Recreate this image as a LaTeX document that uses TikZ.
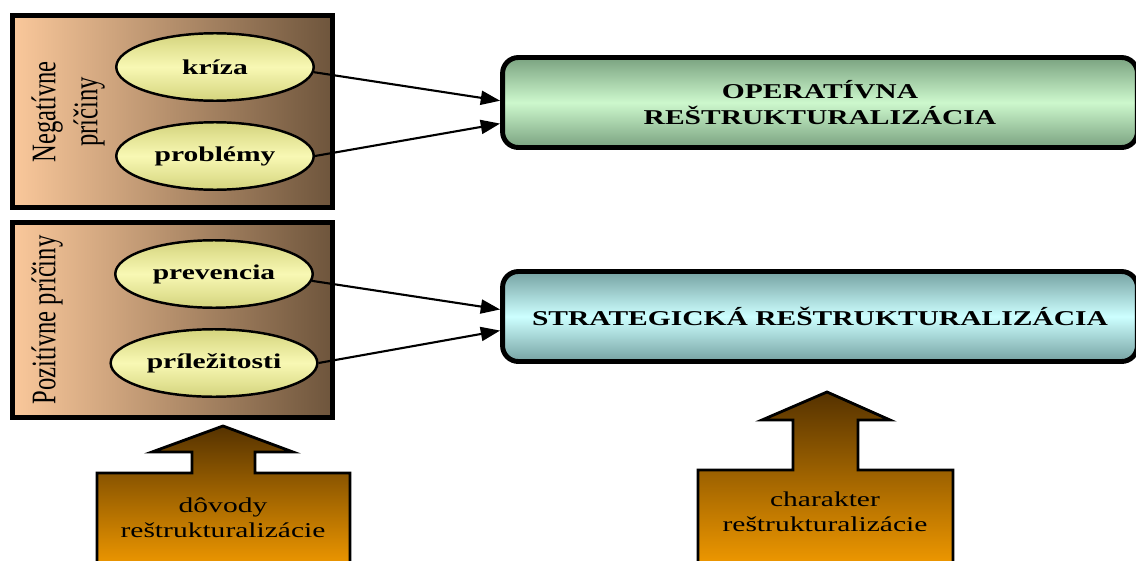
\documentclass[tikz,border=0pt]{standalone}
\usepackage{fontspec}
\setmainfont{Liberation Serif}[FakeStretch=1.4]
\newfontfamily\uprightserif{Liberation Serif}
\usepackage{graphicx}
\usetikzlibrary{arrows.meta,shapes.geometric}

\definecolor{peach}{RGB}{250,200,155}
\definecolor{bark}{RGB}{110,85,60}
\definecolor{khaki}{RGB}{212,212,125}
\definecolor{paleyellow}{RGB}{248,248,180}
\definecolor{sage}{RGB}{122,162,128}
\definecolor{mint}{RGB}{205,248,205}
\definecolor{slate}{RGB}{118,162,162}
\definecolor{icecyan}{RGB}{205,255,255}
\definecolor{umber}{RGB}{85,50,0}
\definecolor{amber}{RGB}{248,158,0}

\begin{document}
\begin{tikzpicture}[
    x=0.02cm, y=-0.02cm,
    panel/.style={
      draw,
      line width=2.8pt,
      left color=peach,
      right color=bark,
      minimum width=6.4cm
    },
    cause/.style={
      ellipse,
      draw,
      line width=1.4pt,
      top color=khaki,
      bottom color=khaki,
      middle color=paleyellow,
      minimum width=3.95cm,
      minimum height=1.35cm,
      font=\bfseries\fontsize{12}{14}\selectfont
    },
    kind/.style={
      draw,
      line width=2.8pt,
      rounded corners=9pt,
      minimum width=12.7cm,
      minimum height=1.8cm,
      align=center,
      font=\bfseries\fontsize{12}{14.7}\selectfont
    },
    sidelabel/.style={
      rotate=90,
      inner sep=0pt,
      font=\uprightserif\fontsize{14}{17}\selectfont
    },
    bigarrow/.style={
      draw,
      line width=1.6pt,
      top color=umber,
      bottom color=amber
    },
    note/.style={
      align=center,
      font=\fontsize{12}{14.2}\selectfont
    },
    >={Triangle[length=11pt,width=8pt]}
  ]
    \useasboundingbox (0,0) rectangle (1136,561);
    \clip (0,0) rectangle (1136,561);

    % panels with the causes
    \node[panel, minimum height=3.84cm] (negpanel) at (172.5,111.5) {};
    \node[panel, minimum height=3.9cm] (pospanel) at (172.5,320) {};
    \node[sidelabel] (neglabel) at (68,112)
      {\scalebox{1}[1.4]{\begin{tabular}{@{}c@{}}Negatívne\\príčiny\end{tabular}}};
    \node[sidelabel] (poslabel) at (47,320) {\scalebox{1}[1.4]{Pozitívne príčiny}};

    \node[cause] (kriza) at (215,67)   {kríza};
    \node[cause] (problemy) at (215,156) {problémy};
    \node[cause] (prevencia) at (214,274) {prevencia};
    \node[cause] (prilezitosti) at (214,363) {príležitosti};

    % kinds of restructuring
    \node[kind, top color=sage, bottom color=sage, middle color=mint] (oper) at (820,102.5)
      {OPERATÍVNA\\REŠTRUKTURALIZÁCIA};
    \node[kind, top color=slate, bottom color=slate, middle color=icecyan] (strat) at (820,316.5)
      {STRATEGICKÁ REŠTRUKTURALIZÁCIA};

    \draw[->, line width=1.2pt] (kriza.-3) -- ([yshift=1pt]oper.west);
    \draw[->, line width=1.2pt] (problemy.east) -- ([yshift=-12pt]oper.west);
    \draw[->, line width=1.2pt] (prevencia.-4) -- ([yshift=4pt]strat.west);
    \draw[->, line width=1.2pt] (prilezitosti.east) -- ([yshift=-8pt]strat.west);

    % big arrows
    \path[bigarrow] (223,426) -- (293,452) -- (255,452) -- (255,473) -- (350,473)
      -- (350,575) -- (97,575) -- (97,473) -- (192,473) -- (192,452) -- (152,452) -- cycle;
    \node[note] (dovody) at (223,518) {dôvody\\reštrukturalizácie};

    \path[bigarrow] (827,392) -- (890,420) -- (858,420) -- (858,470) -- (953,470)
      -- (953,575) -- (698,575) -- (698,470) -- (793,470) -- (793,420) -- (762,420) -- cycle;
    \node[note] (charakter) at (825,512) {charakter\\reštrukturalizácie};
  \end{tikzpicture}
\end{document}
